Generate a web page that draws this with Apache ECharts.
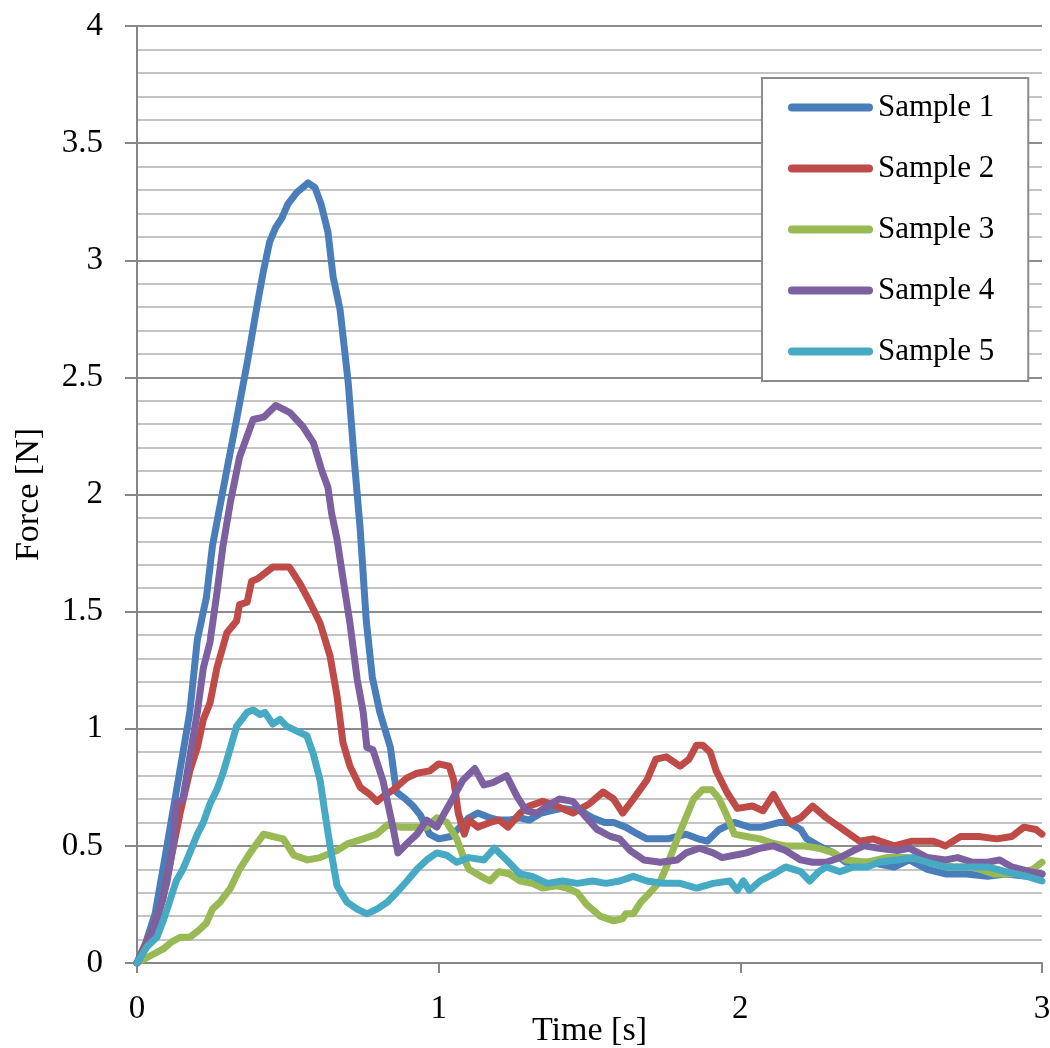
<!DOCTYPE html>
<html>
<head>
<meta charset="utf-8">
<title>Force vs Time</title>
<script src="https://cdn.jsdelivr.net/npm/echarts@6/dist/echarts.min.js"></script>
<style>
  html, body { margin: 0; padding: 0; background: #fff; }
  #main { width: 1050px; height: 1048px; }
</style>
</head>
<body>
<div id="main"></div>
<script>
// series names + colours (old excel palette)
var names = ['Sample 1', 'Sample 2', 'Sample 3', 'Sample 4', 'Sample 5'];
var colors = ['#4A7EBB', '#BE4B48', '#98B954', '#7D60A0', '#46AAC5'];
var xTicks = [0, 1, 2, 3];
var yTicks = [0, 0.5, 1, 1.5, 2, 2.5, 3, 3.5, 4];

// [time s, force N]
var sample1 = [[0,0],[0.03,0.09],[0.06,0.21],[0.09,0.43],[0.11,0.58],[0.13,0.73],[0.15,0.88],[0.175,1.07],[0.2,1.38],[0.23,1.56],[0.25,1.78],[0.275,1.95],[0.3,2.12],[0.33,2.32],[0.365,2.56],[0.4,2.82],[0.42,2.96],[0.44,3.08],[0.46,3.14],[0.48,3.18],[0.5,3.24],[0.53,3.29],[0.567,3.33],[0.59,3.31],[0.61,3.24],[0.633,3.12],[0.65,2.93],[0.673,2.79],[0.7,2.48],[0.72,2.15],[0.74,1.85],[0.76,1.46],[0.78,1.22],[0.805,1.07],[0.84,0.92],[0.86,0.73],[0.89,0.7],[0.915,0.67],[0.94,0.63],[0.97,0.55],[1.0,0.53],[1.04,0.54],[1.07,0.58],[1.1,0.62],[1.13,0.64],[1.17,0.62],[1.2,0.61],[1.235,0.61],[1.27,0.62],[1.3,0.61],[1.34,0.64],[1.37,0.65],[1.41,0.66],[1.47,0.65],[1.51,0.62],[1.55,0.6],[1.58,0.6],[1.62,0.58],[1.66,0.55],[1.69,0.53],[1.76,0.53],[1.82,0.55],[1.86,0.53],[1.89,0.52],[1.93,0.57],[1.98,0.6],[2.03,0.58],[2.07,0.58],[2.13,0.6],[2.16,0.6],[2.2,0.57],[2.22,0.53],[2.26,0.5],[2.31,0.47],[2.35,0.43],[2.43,0.43],[2.51,0.41],[2.56,0.44],[2.62,0.4],[2.68,0.38],[2.75,0.38],[2.82,0.37],[2.88,0.38],[2.95,0.37],[3.0,0.38]];
var sample2 = [[0,0],[0.03,0.08],[0.055,0.15],[0.085,0.27],[0.11,0.43],[0.143,0.64],[0.175,0.82],[0.2,0.92],[0.22,1.04],[0.242,1.11],[0.265,1.26],[0.298,1.41],[0.33,1.46],[0.34,1.53],[0.365,1.54],[0.38,1.63],[0.4,1.64],[0.45,1.69],[0.505,1.69],[0.54,1.62],[0.573,1.54],[0.607,1.45],[0.64,1.31],[0.663,1.14],[0.683,0.94],[0.706,0.84],[0.74,0.75],[0.772,0.72],[0.795,0.69],[0.815,0.71],[0.85,0.74],[0.895,0.79],[0.928,0.81],[0.97,0.82],[1.0,0.85],[1.035,0.84],[1.05,0.78],[1.065,0.64],[1.085,0.55],[1.1,0.61],[1.13,0.58],[1.17,0.6],[1.2,0.61],[1.23,0.58],[1.27,0.64],[1.3,0.67],[1.345,0.69],[1.39,0.67],[1.445,0.64],[1.5,0.68],[1.545,0.73],[1.58,0.7],[1.61,0.64],[1.645,0.7],[1.69,0.78],[1.72,0.87],[1.755,0.88],[1.8,0.84],[1.83,0.87],[1.855,0.93],[1.875,0.93],[1.9,0.9],[1.92,0.82],[1.955,0.73],[1.99,0.66],[2.04,0.67],[2.075,0.65],[2.11,0.72],[2.14,0.65],[2.165,0.6],[2.2,0.62],[2.24,0.67],[2.285,0.62],[2.34,0.57],[2.395,0.52],[2.44,0.53],[2.51,0.5],[2.57,0.52],[2.64,0.52],[2.68,0.5],[2.73,0.54],[2.79,0.54],[2.85,0.53],[2.9,0.54],[2.94,0.58],[2.98,0.57],[3.0,0.55]];
var sample3 = [[0,0],[0.043,0.03],[0.087,0.06],[0.115,0.09],[0.143,0.11],[0.175,0.11],[0.205,0.14],[0.23,0.17],[0.25,0.23],[0.275,0.26],[0.31,0.32],[0.34,0.4],[0.375,0.47],[0.42,0.55],[0.45,0.54],[0.485,0.53],[0.52,0.46],[0.565,0.44],[0.607,0.45],[0.663,0.48],[0.7,0.51],[0.75,0.53],[0.795,0.55],[0.83,0.59],[0.872,0.58],[0.915,0.58],[0.96,0.58],[0.994,0.62],[1.027,0.6],[1.06,0.53],[1.08,0.46],[1.1,0.4],[1.14,0.37],[1.17,0.35],[1.2,0.39],[1.235,0.38],[1.27,0.35],[1.31,0.34],[1.345,0.32],[1.39,0.33],[1.425,0.32],[1.46,0.3],[1.49,0.25],[1.535,0.2],[1.58,0.18],[1.61,0.19],[1.62,0.21],[1.645,0.21],[1.67,0.26],[1.7,0.3],[1.735,0.35],[1.755,0.41],[1.8,0.56],[1.845,0.7],[1.875,0.74],[1.905,0.74],[1.93,0.7],[1.955,0.63],[1.98,0.55],[2.02,0.54],[2.065,0.53],[2.11,0.51],[2.15,0.5],[2.21,0.5],[2.26,0.49],[2.31,0.47],[2.35,0.44],[2.42,0.43],[2.485,0.45],[2.55,0.45],[2.62,0.44],[2.705,0.41],[2.77,0.41],[2.84,0.38],[2.9,0.38],[2.97,0.4],[3.0,0.43]];
var sample4 = [[0,0],[0.035,0.08],[0.066,0.18],[0.1,0.35],[0.12,0.5],[0.13,0.68],[0.152,0.7],[0.175,0.88],[0.2,1.07],[0.22,1.26],[0.242,1.37],[0.265,1.58],[0.285,1.78],[0.31,1.97],[0.34,2.16],[0.385,2.32],[0.42,2.33],[0.46,2.38],[0.507,2.35],[0.55,2.29],[0.585,2.22],[0.613,2.1],[0.633,2.03],[0.645,1.92],[0.663,1.81],[0.683,1.64],[0.706,1.45],[0.73,1.21],[0.75,1.07],[0.762,0.92],[0.782,0.91],[0.815,0.78],[0.85,0.57],[0.865,0.47],[0.895,0.51],[0.928,0.55],[0.96,0.61],[0.994,0.58],[1.015,0.63],[1.05,0.71],[1.08,0.78],[1.12,0.83],[1.15,0.76],[1.18,0.77],[1.225,0.8],[1.26,0.71],[1.29,0.65],[1.325,0.64],[1.36,0.67],[1.4,0.7],[1.445,0.69],[1.49,0.62],[1.525,0.57],[1.57,0.54],[1.6,0.53],[1.635,0.48],[1.68,0.44],[1.735,0.43],[1.79,0.44],[1.82,0.47],[1.865,0.49],[1.91,0.47],[1.94,0.45],[1.98,0.46],[2.02,0.47],[2.065,0.49],[2.11,0.5],[2.15,0.48],[2.2,0.44],[2.24,0.43],[2.285,0.43],[2.33,0.45],[2.375,0.48],[2.41,0.5],[2.46,0.49],[2.52,0.48],[2.56,0.49],[2.62,0.45],[2.68,0.44],[2.72,0.45],[2.77,0.43],[2.82,0.43],[2.86,0.44],[2.9,0.41],[2.96,0.39],[3.0,0.38]];
var sample5 = [[0,0],[0.033,0.07],[0.066,0.11],[0.087,0.18],[0.11,0.27],[0.13,0.35],[0.152,0.4],[0.175,0.47],[0.2,0.55],[0.22,0.6],[0.242,0.68],[0.265,0.74],[0.285,0.81],[0.31,0.92],[0.33,1.01],[0.365,1.07],[0.385,1.08],[0.408,1.06],[0.424,1.07],[0.45,1.02],[0.474,1.04],[0.497,1.01],[0.53,0.99],[0.563,0.97],[0.585,0.89],[0.607,0.78],[0.623,0.64],[0.64,0.5],[0.663,0.33],[0.696,0.26],[0.73,0.23],[0.762,0.21],[0.795,0.23],[0.83,0.26],[0.86,0.3],[0.895,0.35],[0.928,0.4],[0.96,0.44],[0.994,0.47],[1.027,0.46],[1.06,0.43],[1.1,0.45],[1.15,0.44],[1.185,0.49],[1.225,0.44],[1.27,0.38],[1.31,0.37],[1.36,0.34],[1.41,0.35],[1.46,0.34],[1.51,0.35],[1.555,0.34],[1.6,0.35],[1.645,0.37],[1.69,0.35],[1.745,0.34],[1.8,0.34],[1.855,0.32],[1.91,0.34],[1.965,0.35],[1.99,0.31],[2.01,0.35],[2.03,0.31],[2.065,0.35],[2.11,0.38],[2.15,0.41],[2.2,0.39],[2.23,0.35],[2.26,0.39],[2.285,0.41],[2.33,0.39],[2.375,0.41],[2.42,0.41],[2.46,0.43],[2.52,0.44],[2.57,0.45],[2.62,0.43],[2.68,0.41],[2.75,0.41],[2.82,0.41],[2.88,0.39],[2.95,0.37],[3.0,0.35]];

var samples = [sample1, sample2, sample3, sample4, sample5];
var serif = '"Liberation Serif", "Times New Roman", serif';

var chart = echarts.init(document.getElementById('main'));

var series = [];
for (var i = 0; i < samples.length; i++) {
  series.push({
    name: names[i],
    type: 'line',
    data: samples[i],
    symbol: 'none',
    smooth: false,
    animation: false,
    lineStyle: { width: 7, color: colors[i], join: 'round', cap: 'round' },
    itemStyle: { color: colors[i] }
  });
}

var option = {
  backgroundColor: '#ffffff',
  animation: false,
  color: colors,
  // fixed plot box, don't let v6 squeeze it for the labels
  grid: { left: 137, right: 8, top: 26, bottom: 85, outerBoundsMode: 'none' },
  legend: {
    orient: 'vertical',
    left: 762,
    top: 78,
    data: names,
    backgroundColor: '#ffffff',
    borderColor: '#8a8a8a',
    borderWidth: 2,
    padding: [14, 34, 14, 26],
    // rounded bar instead of line+circle
    icon: 'path://M4,0 L81,0 A4,4 0 0 1 81,8 L4,8 A4,4 0 0 1 4,0 Z',
    itemWidth: 85,
    itemHeight: 8,
    itemGap: 30,
    textStyle: { fontFamily: serif, fontSize: 31, color: '#000', lineHeight: 30 }
  },
  xAxis: {
    type: 'value',
    min: xTicks[0],
    max: xTicks[xTicks.length - 1],
    interval: 1,
    name: 'Time [s]',
    nameLocation: 'middle',
    nameGap: 51,
    nameMoveOverlap: false,
    nameTextStyle: { fontFamily: serif, fontSize: 34, color: '#000' },
    axisLine: { show: true, lineStyle: { color: '#868686', width: 2 } },
    axisTick: { show: true, length: 10, lineStyle: { color: '#868686', width: 2 } },
    axisLabel: { fontFamily: serif, fontSize: 33, color: '#000', margin: 30 },
    splitLine: { show: false }
  },
  yAxis: {
    type: 'value',
    min: yTicks[0],
    max: yTicks[yTicks.length - 1],
    interval: 0.5,
    name: 'Force [N]',
    nameLocation: 'middle',
    nameGap: 91,
    nameTextStyle: { fontFamily: serif, fontSize: 34, color: '#000' },
    axisLine: { show: true, lineStyle: { color: '#868686', width: 2 } },
    axisTick: { show: true, length: 12, lineStyle: { color: '#868686', width: 2 } },
    axisLabel: { fontFamily: serif, fontSize: 33, color: '#000', margin: 34 },
    splitLine: { show: true, lineStyle: { color: '#8c8c8c', width: 2 } },
    minorTick: { show: false, splitNumber: 5 },
    minorSplitLine: { show: true, lineStyle: { color: '#c4c4c4', width: 2 } }
  },
  series: series
};

chart.setOption(option);
</script>
</body>
</html>
